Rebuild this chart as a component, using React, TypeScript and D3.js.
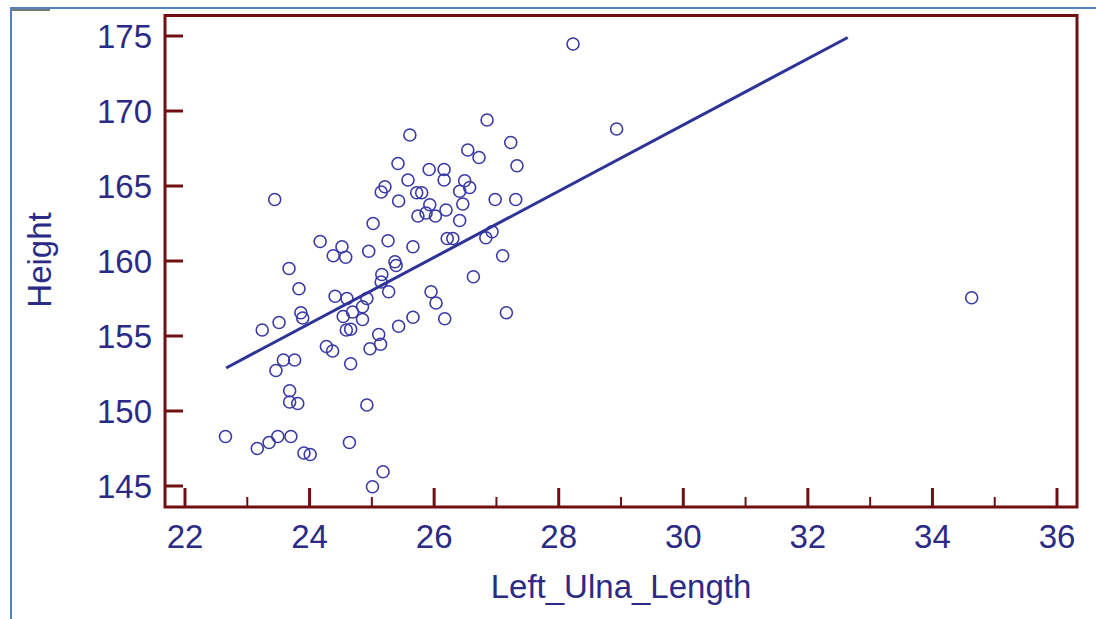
import React from "react";
import * as d3 from "d3";

// Left_Ulna_Length values (x)
const ulna = [
  28.23, 28.93, 26.85, 25.61, 26.54, 27.23, 26.72, 25.42, 27.33, 25.92,
  26.16, 25.58, 26.16, 26.49, 26.57, 25.21, 25.15, 25.72, 25.8, 26.41,
  23.44, 25.43, 26.98, 27.31, 25.93, 26.46, 26.19, 25.74, 25.87, 26.02,
  26.41, 25.02, 26.93, 26.83, 25.26, 24.17, 26.21, 26.3, 25.66, 24.52,
  24.95, 24.38, 24.58, 27.1, 25.37, 25.39, 23.67, 25.16, 26.63, 25.15,
  23.83, 25.27, 25.95, 24.41, 24.92, 24.6, 26.03, 24.85, 34.63, 24.69,
  23.86, 23.89, 24.54, 24.85, 25.66, 26.17, 27.16, 23.51, 25.43, 23.24,
  24.59, 24.66, 25.11, 24.27, 24.37, 25.14, 24.97, 23.58, 23.76, 24.66,
  23.46, 23.68, 23.68, 23.81, 24.92, 22.65, 23.16, 23.35, 23.49, 23.7,
  23.91, 24.01, 24.64, 25.18, 25.01,
];

// Height values (y)
const height = [
  174.47, 168.8, 169.4, 168.4, 167.4, 167.9, 166.9, 166.5, 166.35, 166.1,
  166.1, 165.4, 165.4, 165.35, 164.9, 164.95, 164.6, 164.55, 164.55, 164.65,
  164.1, 164.0, 164.1, 164.1, 163.75, 163.8, 163.4, 163.0, 163.2, 163.0,
  162.7, 162.5, 161.95, 161.55, 161.35, 161.3, 161.5, 161.5, 160.95, 160.95,
  160.65, 160.35, 160.25, 160.35, 159.95, 159.7, 159.5, 159.1, 158.95, 158.6,
  158.15, 157.95, 157.95, 157.65, 157.5, 157.5, 157.2, 156.95, 157.55, 156.6,
  156.55, 156.2, 156.3, 156.1, 156.25, 156.15, 156.55, 155.9, 155.65, 155.4,
  155.4, 155.45, 155.1, 154.3, 154.0, 154.45, 154.15, 153.4, 153.4, 153.15,
  152.7, 151.35, 150.6, 150.5, 150.4, 148.3, 147.5, 147.9, 148.3, 148.3,
  147.2, 147.1, 147.9, 145.95, 144.95,
];

// fitted line end points
const fitX = [22.66, 32.64];
const fitY = [152.87, 174.9];

const xMajor = [22, 24, 26, 28, 30, 32, 34, 36];
const xMinor = [23, 25, 27, 29, 31, 33, 35];
const yMajor = [145, 150, 155, 160, 165, 170, 175];

const W = 1096;
const H = 619;
const frame = { left: 165, right: 1077, top: 15.5, bottom: 507 };

const FONT = "'Liberation Sans', Arial, sans-serif";
const TEXT = "#2b2b86";
const RED = "#700f12";
const BLUE = "#3a3aa6";

export default function App() {
  const x = d3.scaleLinear().domain([22, 36]).range([185, 1057]);
  const y = d3.scaleLinear().domain([145, 175]).range([486, 36]);

  const line = d3
    .line<number>()
    .x((d) => x(d))
    .y((_, i) => y(fitY[i]));

  return (
    <svg
      width={W}
      height={H}
      style={{ position: "absolute", left: 0, top: 0, background: "#fff" }}
      fontFamily={FONT}
    >
      {/* outer blue border */}
      <line x1={10} x2={W} y1={8} y2={8} stroke="#4f83c4" strokeWidth={2} />
      <line x1={11} x2={11} y1={7} y2={H} stroke="#4f83c4" strokeWidth={2} />
      <rect x={11} y={9} width={39} height={2} fill="#777" />

      {/* frame */}
      <rect
        x={frame.left}
        y={frame.top}
        width={frame.right - frame.left}
        height={frame.bottom - frame.top}
        fill="none"
        stroke={RED}
        strokeWidth={3}
      />

      {/* y ticks */}
      {yMajor.map((v) => (
        <g key={"y" + v}>
          <line x1={frame.left} x2={frame.left + 18} y1={y(v)} y2={y(v)} stroke={RED} strokeWidth={3} />
          <text x={152} y={y(v)} dy="0.36em" textAnchor="end" fontSize={33} fill={TEXT}>
            {v}
          </text>
        </g>
      ))}

      {/* x ticks */}
      {xMajor.map((v) => (
        <g key={"x" + v}>
          <line x1={x(v)} x2={x(v)} y1={frame.bottom} y2={frame.bottom - 19} stroke={RED} strokeWidth={3} />
          <text x={x(v)} y={548} textAnchor="middle" fontSize={33} fill={TEXT}>
            {v}
          </text>
        </g>
      ))}
      {xMinor.map((v) => (
        <line key={"m" + v} x1={x(v)} x2={x(v)} y1={frame.bottom} y2={frame.bottom - 10} stroke={RED} strokeWidth={2} />
      ))}

      {/* axis titles */}
      <text x={621} y={598} textAnchor="middle" fontSize={33} fill={TEXT}>
        Left_Ulna_Length
      </text>
      <text transform="translate(51,260) rotate(-90)" textAnchor="middle" fontSize={33} fill={TEXT}>
        Height
      </text>

      {/* points */}
      {ulna.map((u, i) => (
        <circle key={i} cx={x(u)} cy={y(height[i])} r={6} fill="none" stroke={BLUE} strokeWidth={1.6} />
      ))}

      {/* regression line */}
      <path d={line(fitX) || ""} fill="none" stroke="#2e3398" strokeWidth={3} />
    </svg>
  );
}
